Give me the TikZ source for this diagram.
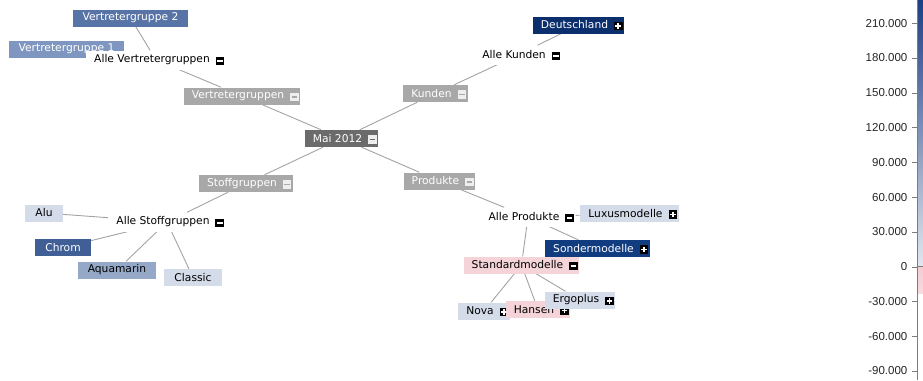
\documentclass[tikz,border=0pt]{standalone}
\usepackage{fontspec}
\setmainfont{DejaVu Sans}
\newfontfamily\skalafont{Liberation Sans}
\usetikzlibrary{backgrounds}% edges behind the boxes

\definecolor{kantegrau}{HTML}{A3A3A3}
\definecolor{knotengrau}{HTML}{A8A8A8}
\definecolor{maigrau}{HTML}{6B6B6B}
\definecolor{knopfhell}{HTML}{EEEEEE}
\definecolor{vgzwei}{HTML}{5874A7}
\definecolor{vgeins}{HTML}{7F97C0}
\definecolor{dtlblau}{HTML}{0B2E6D}
\definecolor{sonderblau}{HTML}{113C80}
\definecolor{chromblau}{HTML}{3F5F96}
\definecolor{aquablau}{HTML}{95A8C8}
\definecolor{hellblau}{HTML}{D4DCE9}
\definecolor{rosa}{HTML}{F4D4D9}
\definecolor{balkenoben}{HTML}{1C3F82}
\definecolor{balkenunten}{HTML}{E2E7F0}
\definecolor{balkenrosa}{HTML}{F3CCD2}
\definecolor{achsgrau}{HTML}{7C7C7C}

\tikzset{every node/.style={font=\fontsize{10.7}{12.8}\selectfont},
  kasten/.style={rectangle, minimum height=17pt, inner xsep=10pt, inner ysep=0pt},
  mitknopf/.style={inner xsep=2pt,
    execute at begin node={\hspace*{6pt}},
    execute at end node={\hspace*{14pt}}},
  grau/.style={kasten, mitknopf, fill=knotengrau, text=white},
  alle/.style={kasten, mitknopf, fill=white, minimum height=19pt},
  knopf/.style={rectangle, minimum size=8.5pt, inner sep=0pt},
  kante/.style={draw=kantegrau, line width=0.9pt}}

% #1 node, #2 fill, #3 bar colour
\newcommand{\minusknopf}[3]
{\node[knopf, fill=#2] (#1-knopf) at ([xshift=-6pt,yshift=-1pt]#1.east) {};
  \draw[#3, line width=1.6pt] ([xshift=1.6pt]#1-knopf.west)
     -- ([xshift=-1.6pt]#1-knopf.east);}
\newcommand{\plusknopf}[1]
{\minusknopf{#1}{black}{white}
  \draw[white, line width=1.6pt] ([yshift=-1.6pt]#1-knopf.north)
     -- ([yshift=1.6pt]#1-knopf.south);}
\newcommand{\skalastrich}[2]
{\draw[achsgrau] (912,#1) -- (917,#1)
   node[pos=0, anchor=east, inner sep=0pt, xshift=-4.5pt,
     font=\skalafont\fontsize{11.5}{13}\selectfont, text=black!85]{#2};}

\begin{document}
\begin{tikzpicture}[x=1pt,y=-1pt]
  \useasboundingbox (0,0) rectangle (923,380);
  % left branch
  \node[kasten, fill=vgzwei, text=white] (vg2) at (130.5,18) {Vertretergruppe 2};
  \node[kasten, fill=vgeins, text=white] (vg1) at (66.5,49) {Vertretergruppe 1};
  \node[alle] (allevg) at (156,60) {Alle Vertretergruppen};
  \minusknopf{allevg}{black}{white}
  \node[grau] (vg) at (242,96) {Vertretergruppen};
  \minusknopf{vg}{knopfhell}{knotengrau}
  \node[kasten, mitknopf, fill=maigrau, text=white] (mai) at (341.5,138.5) {Mai 2012};
  \minusknopf{mai}{knopfhell}{maigrau}
  \node[grau] (stoff) at (246,183.5) {Stoffgruppen};
  \minusknopf{stoff}{knopfhell}{knotengrau}
  \node[alle] (allestoff) at (167,222) {Alle Stoffgruppen};
  \minusknopf{allestoff}{black}{white}
  \node[kasten, fill=hellblau] (alu) at (44,213) {Alu};
  \node[kasten, fill=chromblau, text=white] (chrom) at (63,247.5) {Chrom};
  \node[kasten, fill=aquablau] (aqua) at (117,270) {Aquamarin};
  \node[kasten, fill=hellblau] (classic) at (193,277.5) {Classic};
  % right branch
  \node[grau] (kunden) at (435.5,93.5) {Kunden};
  \minusknopf{kunden}{knopfhell}{knotengrau}
  \node[alle] (allekunden) at (518,55) {Alle Kunden};
  \minusknopf{allekunden}{black}{white}
  \node[kasten, mitknopf, fill=dtlblau, text=white] (dtl) at (578.5,25) {Deutschland};
  \plusknopf{dtl}
  \node[grau] (produkte) at (439.5,181) {Produkte};
  \minusknopf{produkte}{knopfhell}{knotengrau}
  \node[alle] (alleprod) at (528,217) {Alle Produkte};
  \minusknopf{alleprod}{black}{white}
  \node[kasten, mitknopf, fill=hellblau] (luxus) at (629.5,213.5) {Luxusmodelle};
  \plusknopf{luxus}
  \node[kasten, mitknopf, fill=sonderblau, text=white] (sonder) at (597.5,248.5) {Sondermodelle};
  \plusknopf{sonder}
  \node[kasten, mitknopf, fill=rosa] (standard) at (521.5,265) {Standardmodelle};
  \minusknopf{standard}{black}{white}
  \node[kasten, mitknopf, fill=hellblau] (nova) at (484,311) {Nova};
  \plusknopf{nova}
  \node[kasten, mitknopf, fill=rosa] (hansen) at (538,309.5) {Hansen};
  \plusknopf{hansen}
  \node[kasten, mitknopf, fill=hellblau] (ergo) at (580,300) {Ergoplus};
  \plusknopf{ergo}
  \begin{scope}[on background layer]
    \foreach \a/\b in {mai/vg, vg/allevg, allevg/vg2, allevg/vg1,
      mai/kunden, kunden/allekunden, allekunden/dtl,
      mai/stoff, stoff/allestoff, allestoff/alu, allestoff/chrom,
      allestoff/aqua, allestoff/classic,
      mai/produkte, produkte/alleprod, alleprod/luxus, alleprod/sonder,
      alleprod/standard, standard/nova, standard/hansen, standard/ergo}
      \draw[kante] (\a) -- (\b);
  \end{scope}
  % colour scale
  \shade[top color=balkenoben, bottom color=balkenunten] (918,0) rectangle (923,266);
  \shade[top color=balkenrosa, bottom color=balkenrosa!70!white] (918,266) rectangle (923,293);
  \draw[achsgrau] (917,0) -- (917,380);
  \draw[achsgrau] (917,266) -- (923,266);
  \foreach \y/\w in {23.3/210.000, 58/180.000, 92.8/150.000, 127.6/120.000,
    162.4/90.000, 197.1/60.000, 231.9/30.000, 266.7/0, 301.5/-30.000,
    336.2/-60.000, 371/-90.000}
    {\skalastrich{\y}{\w}}
\end{tikzpicture}
\end{document}
